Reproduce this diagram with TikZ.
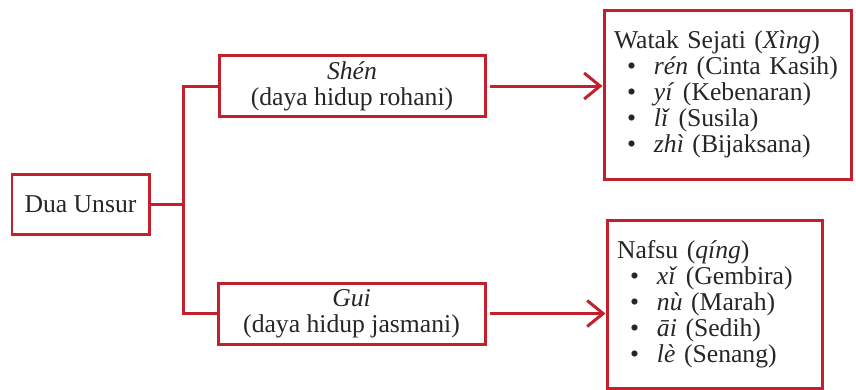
\documentclass[tikz,border=0pt]{standalone}
\usepackage{fontspec}
\setmainfont{Liberation Serif}
\usepackage{xcolor}
\usepackage{tikz}
\usetikzlibrary{arrows.meta, positioning}
\definecolor{merahtua}{RGB}{193,32,44}
\tikzstyle{kotak} = [rectangle, draw = merahtua, line width = 0.06cm, text = black!85, font = \fontsize{14.6}{14.8}\selectfont]
\tikzstyle{daftar} = [kotak, inner sep = 0.2cm, align = left]
\tikzstyle{garis} = [draw = merahtua, line width = 0.06cm]

\begin{document}
\begin{tikzpicture}[>={Straight Barb[length=0.32cm, width=0.52cm, line width=0.06cm]}]
\useasboundingbox (0,0) rectangle (17.12,7.78);

\node (dua) [kotak, minimum width = 2.74cm, minimum height = 1.2cm] at (1.61,3.70) {Dua Unsur} ;

\node (shen) [kotak, minimum width = 5.32cm, minimum height = 1.2cm, align = center] at (7.04,6.06) {\textit{Shén}\\(daya hidup rohani)} ;

\node (gui) [kotak, minimum width = 5.34cm, minimum height = 1.22cm, align = center] at (7.03,1.51) {\textit{Gui}\\(daya hidup jasmani)} ;

\node (xing) [daftar, text width = 4.54cm, minimum height = 3.38cm] at (14.55,5.89) {Watak Sejati (\textit{Xìng})\\
\hspace*{0.26cm}\textbullet\hspace{0.36cm}\textit{rén} (Cinta Kasih)\\
\hspace*{0.26cm}\textbullet\hspace{0.36cm}\textit{yí} (Kebenaran)\\
\hspace*{0.26cm}\textbullet\hspace{0.36cm}\textit{lǐ} (Susila)\\
\hspace*{0.26cm}\textbullet\hspace{0.36cm}\textit{zhì} (Bijaksana)} ;

\node (qing) [daftar, text width = 3.90cm, minimum height = 3.36cm] at (14.29,1.70) {Nafsu (\textit{qíng})\\
\hspace*{0.26cm}\textbullet\hspace{0.36cm}\textit{xǐ} (Gembira)\\
\hspace*{0.26cm}\textbullet\hspace{0.36cm}\textit{nù} (Marah)\\
\hspace*{0.26cm}\textbullet\hspace{0.36cm}\textit{āi} (Sedih)\\
\hspace*{0.26cm}\textbullet\hspace{0.36cm}\textit{lè} (Senang)} ;

% cabang dari dua unsur
\coordinate (cabang) at (3.66,3.70) ;
\draw[garis] (dua.east) -- (cabang) ;
\draw[garis] (cabang) |- (shen.west) ;
\draw[garis] (cabang) |- (gui.west) ;

\draw[garis, ->] ([xshift=0.06cm]shen.east) -- (shen.east -| xing.west) ;
\draw[garis, ->] ([xshift=0.06cm]gui.east) -- (gui.east -| qing.west) ;
\end{tikzpicture}
\end{document}
